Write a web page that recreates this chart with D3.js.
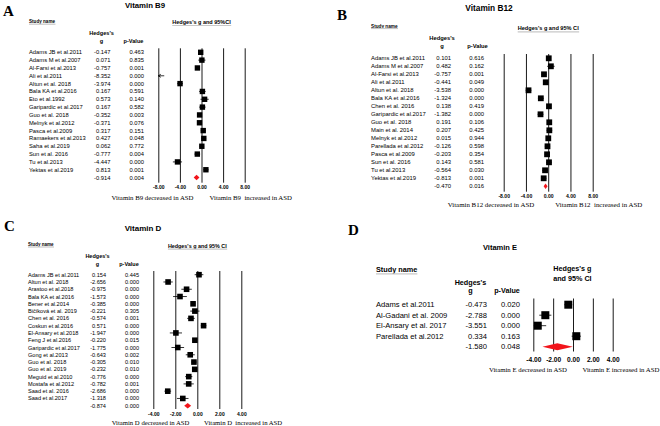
<!DOCTYPE html>
<html>
<head>
<meta charset="utf-8">
<script src="https://cdn.jsdelivr.net/npm/d3@7"></script>
<style>
body { margin: 0; background: #fff; }
svg { display: block; }
</style>
</head>
<body>
<script>
// ---- data ----

// A: Vitamin B9
var studiesA = ["Adams JB et al.2011", "Adams M et al.2007", "Al-Farsi et al.2013", "Ali et al.2011",
    "Altun et al. 2018", "Bala KA et al.2016", "Eto et al.1992", "Garipardic et al.2017", "Guo et al. 2018",
    "Melnyk et al.2012", "Pasca et al.2009", "Ramaekers et al.2013", "Saha et al.2019", "Sun et al. 2016",
    "Tu et al.2013", "Yektas et al.2019"];
var gA = [-0.147, 0.071, -0.757, -8.352, -3.974, 0.167, 0.573, 0.167, -0.352, -0.371, 0.317, 0.427, 0.062, -0.777, -4.447, 0.813];
var pA = [0.463, 0.835, 0.001, 0.000, 0.000, 0.591, 0.140, 0.582, 0.003, 0.076, 0.151, 0.048, 0.772, 0.004, 0.000, 0.001];
var loA = [-0.54, -0.6, -1.2, -9.8, -4.5, -0.44, -0.19, -0.43, -0.58, -0.78, -0.12, 0.0, -0.36, -1.3, -5.3, 0.33];
var hiA = [0.25, 0.74, -0.3, -6.9, -3.45, 0.77, 1.34, 0.76, -0.12, 0.04, 0.75, 0.85, 0.48, -0.25, -3.6, 1.3];
var summaryA = [-0.914, 0.004, -1.45, -0.38];

// B: Vitamin B12
var studiesB = ["Adams JB et al.2011", "Adams M et al.2007", "Al-Farsi et al.2013", "Ali et al.2011",
    "Altun et al. 2018", "Bala KA et al.2016", "Chen et al. 2016", "Garipardic et al.2017", "Guo et al. 2018",
    "Main et al. 2014", "Melnyk et al.2012", "Parellada et al.2012", "Pasca et al.2009", "Sun et al. 2016",
    "Tu et al.2013", "Yektas et al.2019"];
var gB = [0.101, 0.482, -0.757, -0.441, -3.538, -1.324, 0.138, -1.382, 0.191, 0.207, 0.015, -0.126, -0.203, 0.143, -0.564, -0.813];
var pB = [0.616, 0.162, 0.001, 0.049, 0.000, 0.000, 0.419, 0.000, 0.106, 0.425, 0.944, 0.598, 0.354, 0.581, 0.030, 0.001];
var loB = [-0.29, -0.19, -1.2, -0.88, -4.05, -1.85, -0.2, -1.9, -0.04, -0.3, -0.4, -0.6, -0.63, -0.36, -1.07, -1.3];
var hiB = [0.49, 1.16, -0.31, 0.0, -3.03, -0.8, 0.47, -0.86, 0.42, 0.72, 0.43, 0.34, 0.23, 0.65, -0.05, -0.33];
var summaryB = [-0.470, 0.016, -0.82, -0.12];

// C: Vitamin D
var studiesC = ["Adams JB et al.2011", "Altun et al. 2018", "Arastoo et al.2018", "Bala KA et al.2016",
    "Bener et al.2014", "Bičíková et al. 2019", "Chen et al. 2016", "Coskun et al.2016", "El-Ansary et al.2018",
    "Feng J et al.2016", "Garipardic et al.2017", "Gong et al.2013", "Guo et al. 2018", "Guo et al. 2019",
    "Meguid et al.2010", "Mostafa et al.2012", "Saad et al. 2016", "Saad et al.2017"];
var gC = [0.154, -2.656, -0.975, -1.573, -0.385, -0.221, -0.574, 0.571, -1.947, -0.220, -1.775, -0.643, -0.305, -0.232, -0.776, -0.782, -2.686, -1.318];
var pC = [0.445, 0.000, 0.000, 0.000, 0.000, 0.305, 0.001, 0.000, 0.000, 0.015, 0.000, 0.002, 0.010, 0.010, 0.000, 0.001, 0.000, 0.000];
var loC = [-0.24, -3.08, -1.45, -2.2, -0.58, -0.64, -0.92, 0.32, -2.5, -0.4, -2.35, -1.05, -0.54, -0.41, -1.1, -1.25, -2.99, -1.85];
var hiC = [0.55, -2.23, -0.5, -0.95, -0.19, 0.2, -0.23, 0.82, -1.39, -0.04, -1.2, -0.23, -0.07, -0.06, -0.45, -0.32, -2.38, -0.8];
var summaryC = [-0.874, 0.000, -1.19, -0.56];

// D: Vitamin E
var studiesD = ["Adams et al.2011", "Al-Gadani et al. 2009", "El-Ansary et al. 2017", "Parellada et al.2012"];
var gD = [-0.473, -2.788, -3.551, 0.334];
var pD = [0.020, 0.000, 0.000, 0.163];
var loD = [-0.87, -3.4, -3.95, -0.14];
var hiD = [-0.08, -2.18, -2.7, 0.8];
var summaryD = [-1.580, 0.048, -3.08, -0.02];

var ticksWide = [-8, -4, 0, 4, 8];
var ticksNarrow = [-4, -2, 0, 2, 4];

// ---- drawing ----
var width = 660, height = 426;
var sans = "'Liberation Sans', Arial, sans-serif",
    serif = "'Liberation Serif', 'Times New Roman', serif";

var loc = d3.formatLocale({decimal: ".", thousands: ",", grouping: [3], currency: ["", ""], minus: "-"});
var f3 = loc.format(".3f"),
    f2 = loc.format(".2f");

var svg = d3.select("body").append("svg")
    .attr("width", width)
    .attr("height", height);

function label(g, x, y, txt, size, opts) {
    opts = opts || {};
    return g.append("text")
        .attr("x", x)
        .attr("y", y)
        .attr("dominant-baseline", "central")
        .attr("text-anchor", opts.anchor || "start")
        .attr("font-family", opts.family || sans)
        .attr("font-weight", opts.bold ? "bold" : "normal")
        .attr("font-size", size)
        .style("white-space", "pre")
        .text(txt);
}

function underline(g, t, dy) {
    var b = t.node().getBBox();
    g.append("line")
        .attr("x1", b.x).attr("x2", b.x + b.width)
        .attr("y1", b.y + b.height + dy).attr("y2", b.y + b.height + dy)
        .attr("stroke", "#c8c8c8").attr("stroke-width", 1.2);
}

function drawPanel(c, studies, gs, ps, los, his, summary, ticks) {
    var g = svg.append("g");
    var n = studies.length;

    var x = d3.scaleLinear().domain([ticks[0], ticks[ticks.length - 1]]).range(c.range);
    var y = d3.scaleLinear().domain([0, n]).range([c.rowTop, c.rowTop + n * c.rowStep]);
    var dmin = x.domain()[0], dmax = x.domain()[1];

    //panel letter and title
    g.append("text")
        .attr("x", c.letterX).attr("y", c.letterY)
        .attr("font-family", serif).attr("font-weight", "bold").attr("font-size", 15)
        .text(c.letter);
    label(g, c.titleX, c.titleY, c.title, c.titleFs, {bold: true, anchor: "middle"});

    //table headers
    var sn = label(g, c.nameX, c.studyY, "Study name", c.studyFs, {bold: true});
    underline(g, sn, 0);
    label(g, c.hdrGX, c.hedgesY, "Hedges's", c.hdrFs, {bold: true, anchor: "middle"});
    label(g, c.hdrGX, c.gY, "g", c.hdrFs, {bold: true, anchor: "middle"});
    label(g, c.hdrPX, c.gY, "p-Value", c.hdrFs, {bold: true, anchor: "middle"});

    c.colHdr.forEach(function(t, i) {
        var h = label(g, x(0) + c.colHdrDx, c.colHdrY + i * c.colHdrStep, t, c.colHdrFs, {bold: true, anchor: "middle"});
        if (c.colHdrLine) underline(g, h, 0.5);
    });

    //grid lines and tick labels via axis
    var axis = d3.axisBottom(x)
        .tickValues(ticks)
        .tickFormat(f2)
        .tickSize(-(c.lineBottom - c.lineTop))
        .tickPadding(0);
    var ax = g.append("g")
        .attr("transform", "translate(0," + c.lineBottom + ")")
        .call(axis);
    ax.select(".domain").remove();
    ax.selectAll(".tick line").attr("stroke", "#1a1a1a").attr("stroke-width", 1);
    ax.selectAll(".tick text")
        .attr("y", c.tickY - c.lineBottom)
        .attr("dy", null)
        .attr("dominant-baseline", "central")
        .attr("font-family", sans)
        .attr("font-weight", "bold")
        .attr("font-size", c.tickFs)
        .attr("fill", "#000");

    //rows
    studies.forEach(function(s, i) {
        label(g, c.nameX, y(i), s, c.fs);
        label(g, c.gX, y(i), f3(gs[i]), c.fs, {anchor: "end"});
        label(g, c.pX, y(i), f3(ps[i]), c.fs, {anchor: "end"});

        var x1 = x(Math.max(los[i], dmin)), x2 = x(Math.min(his[i], dmax));
        g.append("line")
            .attr("x1", x1).attr("x2", x2)
            .attr("y1", y(i)).attr("y2", y(i))
            .attr("stroke", "#000").attr("stroke-width", 0.8);
        if (los[i] < dmin) {
            g.append("path")
                .attr("d", "M" + (x1 + 2.5) + "," + (y(i) - 1.5) + "L" + x1 + "," + y(i) + "L" + (x1 + 2.5) + "," + (y(i) + 1.5))
                .attr("fill", "none").attr("stroke", "#000").attr("stroke-width", 0.8);
        }
        if (gs[i] >= dmin && gs[i] <= dmax) {
            g.append("rect")
                .attr("x", x(gs[i]) - c.sq / 2).attr("y", y(i) - c.sq / 2)
                .attr("width", c.sq).attr("height", c.sq)
                .attr("fill", "#000");
        }
    });

    //summary row
    label(g, c.gX, y(n), f3(summary[0]), c.fs, {anchor: "end"});
    label(g, c.pX, y(n), f3(summary[1]), c.fs, {anchor: "end"});
    var yc = y(n), hh = c.diaH / 2;
    g.append("path")
        .attr("d", "M" + x(summary[2]) + "," + yc + "L" + x(summary[0]) + "," + (yc - hh) +
            "L" + x(summary[3]) + "," + yc + "L" + x(summary[0]) + "," + (yc + hh) + "Z")
        .attr("fill", "#f2141b");

    //direction labels
    label(g, x(0) + c.decEnd, c.bottomY, c.decText, c.bottomFs, {family: serif, anchor: "end"});
    label(g, x(0) + c.incStart, c.bottomY, c.incText, c.bottomFs, {family: serif});
}

drawPanel({
    letter: "A", letterX: 3, letterY: 16,
    title: "Vitamin B9", titleX: 145, titleY: 5.5, titleFs: 7.8,
    nameX: 29, gX: 110.5, pX: 144, hdrGX: 101.5, hdrPX: 133.5,
    studyY: 21.7, hedgesY: 33, gY: 40.7, studyFs: 4.6, hdrFs: 5.6,
    colHdr: ["Hedges's g and 95%CI"], colHdrDx: 0, colHdrY: 22, colHdrStep: 0, colHdrFs: 5.5, colHdrLine: true,
    range: [158.3, 244.7], rowTop: 52.3, rowStep: 7.83, fs: 5.8,
    lineTop: 48.3, lineBottom: 182.7, tickY: 187.5, tickFs: 5,
    sq: 5.4, diaH: 5.5,
    bottomY: 197.7, bottomFs: 6.8, decEnd: -8, incStart: 8,
    decText: "Vitamin B9 decreased in ASD", incText: "Vitamin B9  increased in ASD"
}, studiesA, gA, pA, loA, hiA, summaryA, ticksWide);

drawPanel({
    letter: "B", letterX: 337, letterY: 20,
    title: "Vitamin B12", titleX: 489, titleY: 7.5, titleFs: 8.3,
    nameX: 371, gX: 451, pX: 484, hdrGX: 442, hdrPX: 477.5,
    studyY: 26, hedgesY: 37.5, gY: 45.7, studyFs: 4.7, hdrFs: 5.8,
    colHdr: ["Hedges's g and 95% CI"], colHdrDx: 0, colHdrY: 28.3, colHdrStep: 0, colHdrFs: 5.6, colHdrLine: true,
    range: [503.7, 592.7], rowTop: 58.3, rowStep: 8.0, fs: 5.9,
    lineTop: 54, lineBottom: 191.7, tickY: 196.2, tickFs: 5.1,
    sq: 5.8, diaH: 5.5,
    bottomY: 204.5, bottomFs: 6.9, decEnd: -14, incStart: 7,
    decText: "Vitamin B12 decreased in ASD", incText: "Vitamin B12  increased in ASD"
}, studiesB, gB, pB, loB, hiB, summaryB, ticksWide);

drawPanel({
    letter: "C", letterX: 4, letterY: 231,
    title: "Vitamin D", titleX: 143, titleY: 228.3, titleFs: 8,
    nameX: 28, gX: 106, pX: 139, hdrGX: 97.5, hdrPX: 129,
    studyY: 244.5, hedgesY: 255.7, gY: 263.5, studyFs: 4.5, hdrFs: 5.5,
    colHdr: ["Hedges's g and 95% CI"], colHdrDx: 0, colHdrY: 245.7, colHdrStep: 0, colHdrFs: 5.4, colHdrLine: true,
    range: [153.3, 241.3], rowTop: 274.7, rowStep: 7.28, fs: 5.6,
    lineTop: 271, lineBottom: 409, tickY: 414.3, tickFs: 5,
    sq: 5.6, diaH: 5.5,
    bottomY: 422.8, bottomFs: 6.7, decEnd: -8, incStart: 6.7,
    decText: "Vitamin D decreased in ASD", incText: "Vitamin D  increased in ASD"
}, studiesC, gC, pC, loC, hiC, summaryC, ticksNarrow);

drawPanel({
    letter: "D", letterX: 348, letterY: 235,
    title: "Vitamin E", titleX: 500, titleY: 247.5, titleFs: 7.5,
    nameX: 376, gX: 487, pX: 520, hdrGX: 470.5, hdrPX: 507,
    studyY: 269.3, hedgesY: 282.7, gY: 290.7, studyFs: 7.3, hdrFs: 7.2,
    colHdr: ["Hedges's g", "and 95% CI"], colHdrDx: -0.6, colHdrY: 268.3, colHdrStep: 10, colHdrFs: 7.2, colHdrLine: false,
    range: [533.3, 612.7], rowTop: 304.7, rowStep: 10.5, fs: 7.6,
    lineTop: 298.5, lineBottom: 351.5, tickY: 359, tickFs: 6.6,
    sq: 8, diaH: 7,
    bottomY: 369.3, bottomFs: 6.8, decEnd: -6, incStart: 9.4,
    decText: "Vitamin E decreased in ASD", incText: "Vitamin E increased in ASD"
}, studiesD, gD, pD, loD, hiD, summaryD, ticksNarrow);
</script>
</body>
</html>
